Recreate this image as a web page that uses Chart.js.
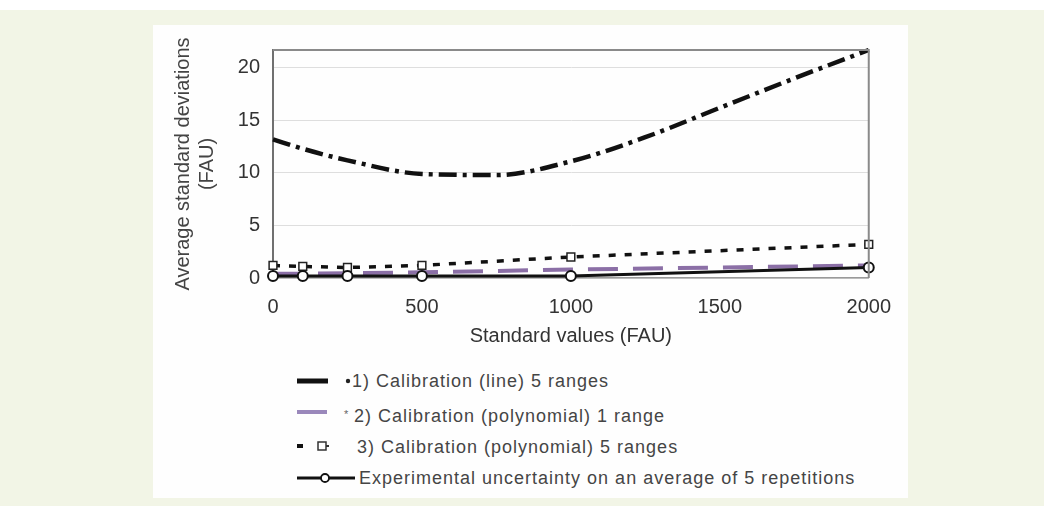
<!DOCTYPE html>
<html>
<head>
<meta charset="utf-8">
<script src="https://cdn.jsdelivr.net/npm/chart.js@4.4.1/dist/chart.umd.min.js"></script>
<style>
  body { margin: 0; background: #f2f5e6; width: 1044px; height: 506px; overflow: hidden; position: relative; font-family: "Liberation Sans", Arial, sans-serif; }
  .topstrip { position: absolute; left: 0; top: 0; width: 1044px; height: 10px; background: #fff; }
  .panel { position: absolute; left: 153px; top: 25px; width: 755px; height: 473px; background: #fefefe; }
  .chartbox { position: absolute; left: 0; top: 0; width: 755px; height: 335px; }
  .leg { position: absolute; left: 0; top: 0; font-size: 18px; letter-spacing: 1px; color: #454545; white-space: nowrap; }
  .leg svg { position: absolute; }
  .leg span { position: absolute; transform: translateY(-50%); }
</style>
</head>
<body>
<div class="topstrip"></div>
<div class="panel">
  <div class="chartbox"><canvas id="chartDesv"></canvas></div>
  <div class="leg" id="legend"></div>
</div>
<script>
// valores
const xCalLine = [0, 100, 250, 500, 750, 1000, 1250, 1500, 1750, 2000];
const calLine = [13.2, 12.3, 11.2, 9.9, 9.8, 11.1, 13.4, 16.2, 19.0, 21.7];
const xStd = [0, 100, 250, 500, 1000, 2000];
const polyOneRange = [0.4, 0.4, 0.45, 0.55, 0.8, 1.2];
const polyFiveRanges = [1.2, 1.1, 1.0, 1.2, 2.0, 3.2];
const experimental = [0.2, 0.2, 0.2, 0.2, 0.2, 1.0];
const xTicks = [0, 500, 1000, 1500, 2000];
const yTicks = [0, 5, 10, 15, 20];
const seriesNames = [
  '1) Calibration (line) 5 ranges',
  '2) Calibration (polynomial) 1 range',
  '3) Calibration (polynomial) 5 ranges',
  'Experimental uncertainty on an average of 5 repetitions'
];

const pts = (xs, ys) => xs.map((x, i) => ({ x: x, y: ys[i] }));

const boxPlugin = {
  id: 'box',
  afterDraw(chart) {
    const a = chart.chartArea, c = chart.ctx;
    c.save();
    c.strokeStyle = '#8a8a8a';
    c.lineWidth = 2;
    c.beginPath();
    c.moveTo(a.left, a.top);
    c.lineTo(a.right, a.top);
    c.lineTo(a.right, a.bottom);
    c.stroke();
    c.restore();
  }
};

const ctx = document.getElementById('chartDesv');

new Chart(ctx, {
  type: 'line',
  data: {
    datasets: [{
      label: seriesNames[0],
      data: pts(xCalLine, calLine),
      borderColor: '#111',
      borderWidth: 4.5,
      borderDash: [18, 6, 4, 6],
      cubicInterpolationMode: 'monotone',
      pointRadius: 0,
      order: 4
    }, {
      label: seriesNames[1],
      data: pts(xStd, polyOneRange),
      borderColor: '#8b6fa6',
      borderWidth: 4,
      borderDash: [30, 15],
      pointRadius: 0,
      order: 3
    }, {
      label: seriesNames[2],
      data: pts(xStd, polyFiveRanges),
      borderColor: '#111',
      borderWidth: 3.5,
      borderDash: [7, 9],
      pointStyle: 'rect',
      pointRadius: 5.5,
      pointBackgroundColor: '#fff',
      pointBorderColor: '#222',
      pointBorderWidth: 1.5,
      order: 2
    }, {
      label: seriesNames[3],
      data: pts(xStd, experimental),
      borderColor: '#111',
      borderWidth: 3,
      pointStyle: 'circle',
      pointRadius: 5,
      pointBackgroundColor: '#fff',
      pointBorderColor: '#111',
      pointBorderWidth: 2,
      order: 1
    }]
  },
  options: {
    responsive: true,
    maintainAspectRatio: false,
    animation: false,
    clip: false,
    layout: { padding: { top: 20, right: 37, left: 0, bottom: 0 } },
    plugins: {
      legend: { display: false },
      tooltip: { enabled: false }
    },
    scales: {
      x: {
        type: 'linear',
        min: 0,
        max: 2000,
        afterFit: (s) => { s.height = 82; },
        afterBuildTicks: (s) => { s.ticks = xTicks.map(v => ({ value: v })); },
        grid: { display: false, drawTicks: false },
        border: { display: true, color: '#9a9a9a', width: 1.5 },
        ticks: {
          color: '#333', padding: 17, maxRotation: 0,
          font: { size: 20, family: 'Liberation Sans' },
          callback: (v) => String(v)
        },
        title: {
          display: true,
          text: 'Standard values (FAU)',
          color: '#333',
          font: { size: 20, family: 'Liberation Sans' },
          padding: { top: 0, bottom: 12 }
        }
      },
      y: {
        min: 0,
        max: 21.7,
        afterFit: (s) => { s.width = 120; },
        afterBuildTicks: (s) => { s.ticks = yTicks.map(v => ({ value: v })); },
        grid: { color: '#dedede', lineWidth: 1, drawTicks: false },
        border: { display: true, color: '#707070', width: 2 },
        ticks: {
          color: '#333', padding: 13,
          font: { size: 20, family: 'Liberation Sans' },
          callback: (v) => String(v)
        },
        title: {
          display: true,
          text: ['Average standard deviations', '(FAU)'],
          color: '#444',
          font: { size: 20, family: 'Liberation Sans', lineHeight: 1.2 },
          padding: { top: 18, bottom: 0 }
        }
      }
    }
  },
  plugins: [boxPlugin]
});

// leyenda (coordenadas dentro del panel)
const leg = document.getElementById('legend');
const rowsY = [356, 391, 422, 453];
const samples = [
  '<line x1="144" y1="0" x2="175" y2="0" stroke="#111" stroke-width="5"/><circle cx="195" cy="0" r="2.2" fill="#222"/>',
  '<line x1="144" y1="-4" x2="174" y2="-4" stroke="#9a88bb" stroke-width="4"/><text x="191" y="2" font-size="11" fill="#666">*</text>',
  '<line x1="144" y1="-1" x2="150" y2="-1" stroke="#111" stroke-width="4"/><rect x="165" y="-5" width="8" height="8" fill="#fff" stroke="#333" stroke-width="1.5"/><line x1="173" y1="-1" x2="176" y2="-1" stroke="#333" stroke-width="2"/>',
  '<line x1="144" y1="0" x2="202" y2="0" stroke="#111" stroke-width="3"/><circle cx="172" cy="0" r="4" fill="#fff" stroke="#111" stroke-width="1.8"/>'
];
const textX = [199, 201, 204, 206];
seriesNames.forEach((name, i) => {
  const y = rowsY[i];
  const svg = document.createElementNS('http://www.w3.org/2000/svg', 'svg');
  svg.setAttribute('width', '220');
  svg.setAttribute('height', '20');
  svg.setAttribute('viewBox', '0 -10 220 20');
  svg.style.left = '0px';
  svg.style.top = (y - 10) + 'px';
  svg.innerHTML = samples[i];
  leg.appendChild(svg);
  const sp = document.createElement('span');
  sp.textContent = name;
  sp.style.left = textX[i] + 'px';
  sp.style.top = y + 'px';
  leg.appendChild(sp);
});
</script>
</body>
</html>
